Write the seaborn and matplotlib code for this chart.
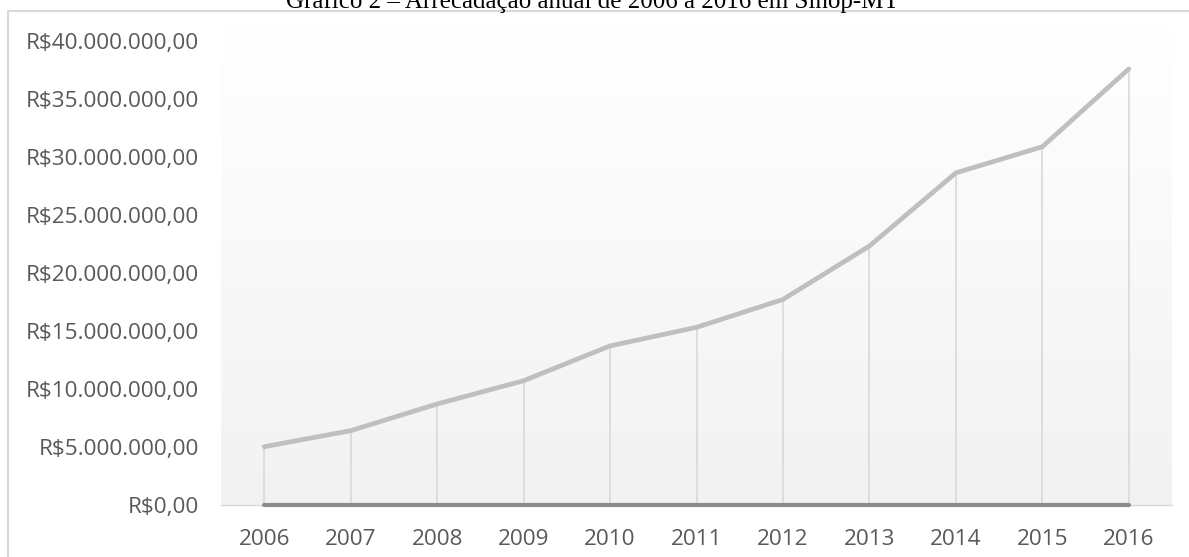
import numpy as np
import pandas as pd
import matplotlib
matplotlib.use("Agg")
import matplotlib.pyplot as plt
import seaborn as sns
from matplotlib.colors import LinearSegmentedColormap
from matplotlib.patches import Rectangle
from matplotlib.ticker import FuncFormatter

# Arrecadação anual (R$)
anos = [2006, 2007, 2008, 2009, 2010, 2011, 2012, 2013, 2014, 2015, 2016]
arrecadacao = [5.02e6, 6.40e6, 8.70e6, 10.70e6, 13.70e6, 15.30e6,
               17.70e6, 22.30e6, 28.60e6, 30.85e6, 37.55e6]
base_zero = [0, 0, 0, 0, 0, 0, 0, 0, 0, 0, 0]
ticks_y = [0, 5e6, 10e6, 15e6, 20e6, 25e6, 30e6, 35e6, 40e6]
titulo = "Gráfico 2 – Arrecadação anual de 2006 a 2016 em Sinop-MT"

df = pd.DataFrame({"ano": anos, "valor": arrecadacao, "base": base_zero})

sns.set_theme(style="white")
plt.rcParams["font.family"] = ["Open Sans", "DejaVu Sans"]

W, H = 1189, 557
fig = plt.figure(figsize=(W / 100, H / 100), dpi=100)

# plot area in pixels
left_px, right_px = 221, 1172
bottom_px, top_px = 505, 25
y40_px = 40.5
ax = fig.add_axes([left_px / W, 1 - bottom_px / H,
                   (right_px - left_px) / W, (bottom_px - top_px) / H])
ymax = 40e6 * (bottom_px - top_px) / (bottom_px - y40_px)

# vertical gradient background
cmap = LinearSegmentedColormap.from_list("fundo", ["#f2f2f2", "#ffffff"])
grad = np.linspace(0, 1, 256).reshape(-1, 1)
ax.imshow(grad, cmap=cmap, aspect="auto", origin="lower",
          extent=[2005.5, 2016.5, 0, ymax], zorder=0)

# drop lines
ax.vlines(df["ano"], 0, df["valor"], colors="#d9d9d9", linewidth=1.2, zorder=1)

sns.lineplot(data=df, x="ano", y="base", ax=ax, color="#8c8c8c",
             linewidth=3.0, zorder=4)
sns.lineplot(data=df, x="ano", y="valor", ax=ax, color="#bfbfbf",
             linewidth=3.4, zorder=3)
for ln in ax.get_lines():
    ln.set_solid_capstyle("round")
    ln.set_solid_joinstyle("round")
    ln.set_clip_on(False)

ax.set_xlim(2005.5, 2016.5)
ax.set_ylim(0, ymax)
ax.set_xticks(anos)
ax.set_xticklabels([str(a) for a in anos])
ax.set_yticks(ticks_y)


def brl(v, pos=None):
    inteiro = f"{int(round(v)):,}".replace(",", ".")
    return f"R${inteiro},00"


ax.yaxis.set_major_formatter(FuncFormatter(brl))
ax.set_xlabel("")
ax.set_ylabel("")
ax.tick_params(axis="both", length=0, labelsize=16.2, colors="#595959")
ax.tick_params(axis="y", pad=16)
ax.tick_params(axis="x", pad=17)

for s in ["top", "right", "left"]:
    ax.spines[s].set_visible(False)
ax.spines["bottom"].set_color("#d9d9d9")
ax.spines["bottom"].set_linewidth(1.0)
ax.spines["bottom"].set_zorder(1)

# chart border
fig.patches.append(Rectangle((8 / W, -0.1), 1.2, 1 - 11 / H + 0.1,
                             transform=fig.transFigure, fill=False,
                             edgecolor="#d9d9d9", linewidth=1.5, zorder=0))

fig.text(0.498, 1 - 8 / H, titulo, ha="center", va="baseline",
         fontsize=18, family=["Liberation Serif", "DejaVu Serif"], color="black")

fig.savefig("out.png", dpi=100)
